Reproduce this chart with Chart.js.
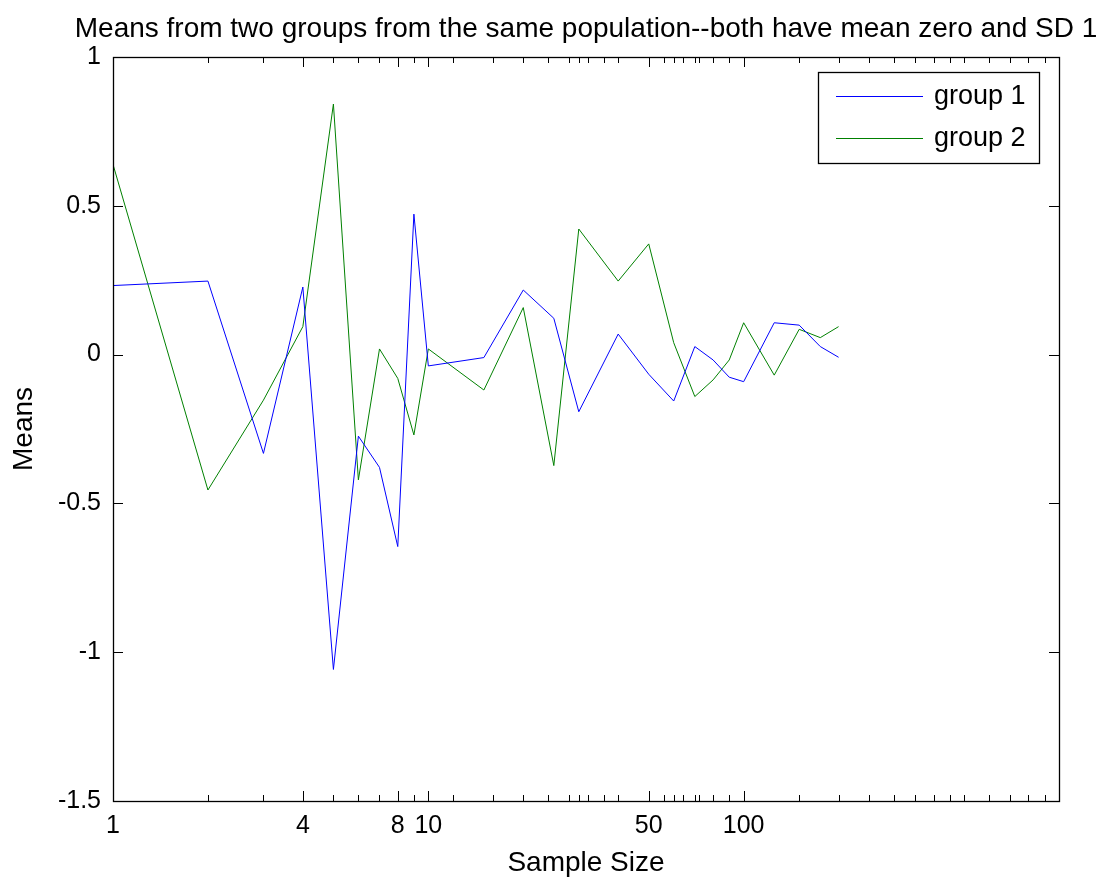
<!DOCTYPE html>
<html>
<head>
<meta charset="utf-8">
<script src="https://cdn.jsdelivr.net/npm/chart.js@4/dist/chart.umd.min.js"></script>
<style>
  html, body { margin: 0; padding: 0; background: #ffffff; }
  #c { display: block; }
</style>
</head>
<body>
<canvas id="c" width="1099" height="880"></canvas>
<script>
// ---- Data ----
const sampleSizes = [1, 2, 3, 4, 5, 6, 7, 8, 9, 10, 15, 20, 25, 30, 40, 50, 60, 70, 80, 90, 100, 125, 150, 175, 200];
const group1Means = [0.232, 0.247, -0.332, 0.227, -1.058, -0.274, -0.379, -0.645, 0.472, -0.038,
                     -0.010, 0.217, 0.122, -0.192, 0.069, -0.066, -0.156, 0.027, -0.018, -0.076,
                     -0.091, 0.107, 0.099, 0.027, -0.009];
const group2Means = [0.639, -0.455, -0.153, 0.094, 0.842, -0.421, 0.019, -0.080, -0.270, 0.019,
                     -0.119, 0.158, -0.373, 0.422, 0.247, 0.372, 0.040, -0.141, -0.085, -0.018,
                     0.107, -0.069, 0.085, 0.057, 0.094];
const xTickValues = [1, 2, 3, 4, 5, 6, 7, 8, 9, 10, 12, 16, 20, 24, 28, 30, 32, 36, 40, 50, 56, 60, 64,
                     70, 72, 80, 90, 100, 150, 200, 250, 300, 350, 400, 450, 500, 600, 700, 800, 900];
const xTickLabels = [1, 4, 8, 10, 50, 100];
const yTickValues = [-1.5, -1, -0.5, 0, 0.5, 1];
const seriesNames = ['group 1', 'group 2'];
const titleText = 'Means from two groups from the same population--both have mean zero and SD 1';
const xTitle = 'Sample Size';
const yTitle = 'Means';

const FONT = '"Liberation Sans", Arial, Helvetica, sans-serif';
const TICK_FS = 25;
const LABEL_FS = 28;
const LEGEND_FS = 27;

// Title centred over the axes (MATLAB style)
const axesTitle = {
  id: 'axesTitle',
  afterDraw(chart) {
    const { ctx, chartArea: a } = chart;
    ctx.save();
    ctx.font = LABEL_FS + 'px ' + FONT;
    ctx.fillStyle = '#000';
    ctx.textAlign = 'center';
    ctx.textBaseline = 'alphabetic';
    ctx.fillText(titleText, (a.left + a.right) / 2, a.top - 20);
    ctx.restore();
  }
};

// Inward tick marks + axes box
const boxTicks = {
  id: 'boxTicks',
  afterDatasetsDraw(chart) {
    const { ctx, chartArea: a, scales } = chart;
    ctx.save();
    ctx.strokeStyle = '#000';
    ctx.lineWidth = 1;
    ctx.beginPath();
    xTickValues.forEach(v => {
      const px = Math.round(scales.x.getPixelForValue(v)) + 0.5;
      const len = xTickLabels.includes(v) ? 10 : 6;
      ctx.moveTo(px, a.bottom); ctx.lineTo(px, a.bottom - len);
      ctx.moveTo(px, a.top); ctx.lineTo(px, a.top + len);
    });
    yTickValues.forEach(v => {
      const py = Math.round(scales.y.getPixelForValue(v)) + 0.5;
      ctx.moveTo(a.left, py); ctx.lineTo(a.left + 10, py);
      ctx.moveTo(a.right, py); ctx.lineTo(a.right - 10, py);
    });
    ctx.stroke();
    ctx.lineWidth = 1.3;
    ctx.strokeRect(Math.round(a.left) + 0.5, Math.round(a.top) + 0.5,
                   Math.round(a.right - a.left), Math.round(a.bottom - a.top));
    ctx.restore();
  }
};

// Boxed legend in the upper-right of the axes
const boxLegend = {
  id: 'boxLegend',
  afterDraw(chart) {
    const { ctx, chartArea: a } = chart;
    const bx = a.right - 241, by = a.top + 15, bw = 221, bh = 91;
    ctx.save();
    ctx.fillStyle = '#fff';
    ctx.fillRect(bx, by, bw, bh);
    ctx.strokeStyle = '#000';
    ctx.lineWidth = 1.3;
    ctx.strokeRect(bx + 0.5, by + 0.5, bw, bh);
    ctx.font = LEGEND_FS + 'px ' + FONT;
    ctx.textBaseline = 'middle';
    ctx.textAlign = 'left';
    chart.data.datasets.forEach((ds, i) => {
      const y = by + 24 + i * 41.5;
      ctx.strokeStyle = ds.borderColor;
      ctx.lineWidth = 1;
      ctx.beginPath();
      ctx.moveTo(bx + 18, Math.round(y) + 0.5);
      ctx.lineTo(bx + 105, Math.round(y) + 0.5);
      ctx.stroke();
      ctx.fillStyle = '#000';
      ctx.fillText(ds.label, bx + 116, y + 1);
    });
    ctx.restore();
  }
};

new Chart(document.getElementById('c'), {
  type: 'line',
  data: {
    datasets: [
      {
        label: seriesNames[0],
        data: sampleSizes.map((x, i) => ({ x: x, y: group1Means[i] })),
        borderColor: '#0000ff', borderWidth: 1, pointRadius: 0, fill: false, tension: 0
      },
      {
        label: seriesNames[1],
        data: sampleSizes.map((x, i) => ({ x: x, y: group2Means[i] })),
        borderColor: '#008000', borderWidth: 1, pointRadius: 0, fill: false, tension: 0
      }
    ]
  },
  options: {
    responsive: false,
    animation: false,
    devicePixelRatio: 1,
    layout: { padding: { left: 0, right: 40, top: 57, bottom: 0 } },
    plugins: {
      legend: { display: false },
      tooltip: { enabled: false },
      title: { display: false }
    },
    scales: {
      x: {
        type: 'logarithmic', min: 1, max: 1000,
        afterBuildTicks: s => { s.ticks = xTickValues.map(v => ({ value: v })); },
        afterFit: s => { s.height = 79; },
        grid: { display: false, drawTicks: false }, border: { display: false },
        ticks: {
          autoSkip: false, maxRotation: 0, minRotation: 0, padding: 10, color: '#000',
          font: { family: FONT, size: TICK_FS },
          callback: v => (xTickLabels.includes(v) ? String(v) : '')
        },
        title: {
          display: true, text: xTitle, color: '#000',
          font: { family: FONT, size: LABEL_FS }, padding: { top: 0, bottom: 0 }
        }
      },
      y: {
        type: 'linear', min: -1.5, max: 1,
        afterBuildTicks: s => { s.ticks = yTickValues.map(v => ({ value: v })); },
        afterFit: s => { s.width = 113; },
        grid: { display: false, drawTicks: false }, border: { display: false },
        ticks: {
          padding: 12, color: '#000',
          font: { family: FONT, size: TICK_FS },
          callback: v => String(v)
        },
        title: {
          display: true, text: yTitle, color: '#000',
          font: { family: FONT, size: LABEL_FS }, padding: { top: 7, bottom: 0 }
        }
      }
    }
  },
  plugins: [boxTicks, boxLegend, axesTitle]
});
</script>
</body>
</html>
